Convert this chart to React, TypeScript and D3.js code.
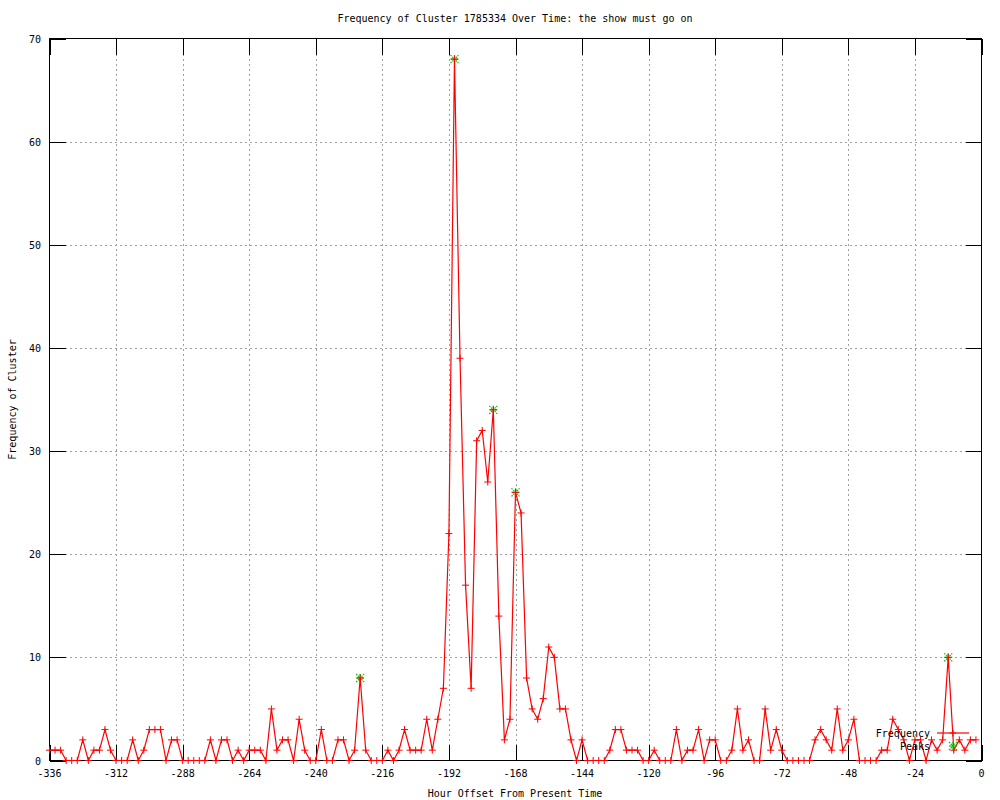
import React from "react";
import * as d3 from "d3";

// Hour offsets: every 2 hours from -336 to -2
const startHour = -336;
const stepHours = 2;
const frequency: number[] = [
  1, 1, 1, 0, 0, 0, 2, 0, 1, 1, 3, 1, 0, 0, 0, 2, 0, 1, 3, 3,
  3, 0, 2, 2, 0, 0, 0, 0, 0, 2, 0, 2, 2, 0, 1, 0, 1, 1, 1, 0,
  5, 1, 2, 2, 0, 4, 1, 0, 0, 3, 0, 0, 2, 2, 0, 1, 8, 1, 0, 0,
  0, 1, 0, 1, 3, 1, 1, 1, 4, 1, 4, 7, 22, 68, 39, 17, 7, 31, 32, 27,
  34, 14, 2, 4, 26, 24, 8, 5, 4, 6, 11, 10, 5, 5, 2, 0, 2, 0, 0, 0,
  0, 1, 3, 3, 1, 1, 1, 0, 0, 1, 0, 0, 0, 3, 0, 1, 1, 3, 0, 2,
  2, 0, 0, 1, 5, 1, 2, 0, 0, 5, 1, 3, 1, 0, 0, 0, 0, 0, 2, 3,
  2, 1, 5, 1, 2, 4, 0, 0, 0, 0, 1, 1, 4, 3, 2, 0, 2, 2, 0, 2,
  1, 2, 10, 1, 2, 1, 2, 2,
];
const hours: number[] = frequency.map((_, i) => startHour + i * stepHours);

const peakHours: number[] = [-224, -190, -176, -168, -12];
const peakValues: number[] = [8, 68, 34, 26, 10];

const xTicks: number[] = [-336, -312, -288, -264, -240, -216, -192, -168, -144, -120, -96, -72, -48, -24, 0];
const yTicks: number[] = [0, 10, 20, 30, 40, 50, 60, 70];

const titleText = "Frequency of Cluster 1785334 Over Time: the show must go on";
const xLabel = "Hour Offset From Present Time";
const yLabel = "Frequency of Cluster";

const W = 1000;
const H = 800;
const L = 49.5;
const R = 981.5;
const T = 38.5;
const B = 760.5;
const FONT = "'DejaVu Sans Mono', monospace";
const RED = "#ff0000";
const GREEN = "#00c000";

function Cross({ x, y, color, s = 3.5 }: { x: number; y: number; color: string; s?: number }) {
  return (
    <g stroke={color} strokeWidth={1}>
      <line x1={x - s} x2={x + s} y1={y} y2={y} />
      <line x1={x} x2={x} y1={y - s} y2={y + s} />
    </g>
  );
}

function Star({ x, y, s = 4 }: { x: number; y: number; s?: number }) {
  return (
    <g stroke={GREEN} strokeWidth={1.2}>
      <line x1={x - s} x2={x + s} y1={y} y2={y} />
      <line x1={x} x2={x} y1={y - s} y2={y + s} />
      <line x1={x - s} x2={x + s} y1={y - s} y2={y + s} strokeDasharray="1.5,1" />
      <line x1={x - s} x2={x + s} y1={y + s} y2={y - s} strokeDasharray="1.5,1" />
    </g>
  );
}

export default function App() {
  const x = d3.scaleLinear().domain([-336, 0]).range([L, R]);
  const y = d3.scaleLinear().domain([0, 70]).range([B, T]);
  const line = d3
    .line<number>()
    .x((_, i) => x(hours[i]))
    .y((d) => y(d));
  const tickLen = 16;
  const legX1 = 937;
  const legX2 = 969;
  const legXc = 953;
  const legY1 = 733;
  const legY2 = 746;

  return (
    <svg
      width={W}
      height={H}
      style={{ position: "absolute", left: 0, top: 0, background: "#fff" }}
      fontFamily={FONT}
      fontSize={10}
    >
      <rect x={0} y={0} width={W} height={H} fill="#fff" />
      {/* grid */}
      <g stroke="#a0a0a0" strokeWidth={1} strokeDasharray="2,3" shapeRendering="crispEdges">
        {xTicks.slice(1, -1).map((t) => (
          <line key={"gx" + t} x1={Math.round(x(t)) + 0.5} x2={Math.round(x(t)) + 0.5} y1={T} y2={B} />
        ))}
        {yTicks.slice(1, -1).map((t) => (
          <line key={"gy" + t} x1={L} x2={R} y1={Math.round(y(t)) + 0.5} y2={Math.round(y(t)) + 0.5} />
        ))}
      </g>
      {/* ticks */}
      <g stroke="#000" strokeWidth={1} shapeRendering="crispEdges">
        {xTicks.map((t) => {
          const px = Math.round(x(t)) + 0.5;
          return (
            <g key={"tx" + t}>
              <line x1={px} x2={px} y1={B} y2={B - tickLen} />
              <line x1={px} x2={px} y1={T} y2={T + tickLen} />
            </g>
          );
        })}
        {yTicks.map((t) => {
          const py = Math.round(y(t)) + 0.5;
          return (
            <g key={"ty" + t}>
              <line x1={L} x2={L + tickLen} y1={py} y2={py} />
              <line x1={R} x2={R - tickLen} y1={py} y2={py} />
            </g>
          );
        })}
        <rect x={L} y={T} width={R - L} height={B - T} fill="none" />
      </g>
      {/* tick labels */}
      <g fill="#000">
        {xTicks.map((t) => (
          <text key={"lx" + t} x={x(t)} y={777} textAnchor="middle">
            {t}
          </text>
        ))}
        {yTicks.map((t) => (
          <text key={"ly" + t} x={41} y={y(t) + 4} textAnchor="end">
            {t}
          </text>
        ))}
        <text x={515} y={22} textAnchor="middle">
          {titleText}
        </text>
        <text x={515} y={797} textAnchor="middle">
          {xLabel}
        </text>
        <text transform={`translate(16,${(T + B) / 2}) rotate(-90)`} textAnchor="middle">
          {yLabel}
        </text>
      </g>
      {/* peaks */}
      {peakHours.map((h, i) => (
        <Star key={"pk" + i} x={x(h)} y={y(peakValues[i])} />
      ))}
      {/* frequency line */}
      <path d={line(frequency) || ""} fill="none" stroke={RED} strokeWidth={1.2} />
      {frequency.map((v, i) => (
        <Cross key={"c" + i} x={x(hours[i])} y={y(v)} color={RED} />
      ))}
      {/* legend */}
      <g fill="#000">
        <text x={930} y={legY1 + 4} textAnchor="end">Frequency</text>
        <text x={930} y={legY2 + 4} textAnchor="end">Peaks</text>
      </g>
      <line x1={legX1} x2={legX2} y1={legY1} y2={legY1} stroke={RED} strokeWidth={1.2} />
      <Cross x={legXc} y={legY1} color={RED} />
      <Star x={legXc} y={legY2} />
    </svg>
  );
}
